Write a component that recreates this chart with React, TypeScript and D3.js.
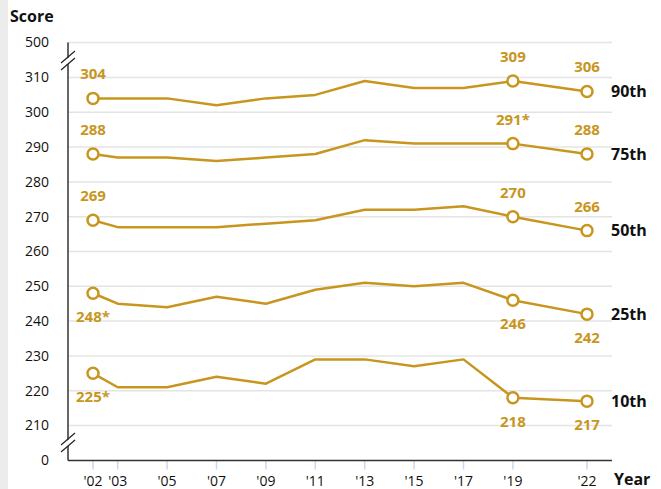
import React from "react";
import * as d3 from "d3";

const years = [2002, 2003, 2005, 2007, 2009, 2011, 2013, 2015, 2017, 2019, 2022];
const yearLabels = ["'02", "'03", "'05", "'07", "'09", "'11", "'13", "'15", "'17", "'19", "'22"];
const percentiles = ["90th", "75th", "50th", "25th", "10th"];

const p90 = [304, 304, 304, 302, 304, 305, 309, 307, 307, 309, 306];
const p75 = [288, 287, 287, 286, 287, 288, 292, 291, 291, 291, 288];
const p50 = [269, 267, 267, 267, 268, 269, 272, 272, 273, 270, 266];
const p25 = [248, 245, 244, 247, 245, 249, 251, 250, 251, 246, 242];
const p10 = [225, 221, 221, 224, 222, 229, 229, 227, 229, 218, 217];

// labels shown on marked points (2002, 2019, 2022)
const markedYears = [2002, 2019, 2022];
const labels90 = ["304", "309", "306"];
const labels75 = ["288", "291*", "288"];
const labels50 = ["269", "270", "266"];
const labels25 = ["248*", "246", "242"];
const labels10 = ["225*", "218", "217"];

const yTicks = [0, 210, 220, 230, 240, 250, 260, 270, 280, 290, 300, 310, 500];

const series = [
  { name: percentiles[0], values: p90, labels: labels90, above: true },
  { name: percentiles[1], values: p75, labels: labels75, above: true },
  { name: percentiles[2], values: p50, labels: labels50, above: true },
  { name: percentiles[3], values: p25, labels: labels25, above: false },
  { name: percentiles[4], values: p10, labels: labels10, above: false },
];

const W = 661;
const H = 489;
const GOLD = "#c8961e";
const FONT = "'Open Sans', 'Noto Sans', sans-serif";

const App: React.FC = () => {
  const x = d3.scaleLinear().domain([2002, 2022]).range([93, 587]);
  // broken axis: 0 and 500 sit one step outside the 210-310 band
  const y = d3.scaleLinear().domain([0, 210, 310, 500]).range([460.5, 425.5, 77.5, 42.5]);
  const left = 68;
  const right = 612;

  const line = d3
    .line<number>()
    .x((_, i) => x(years[i]))
    .y((d) => y(d));

  const breakMark = (cy: number) => (
    <g transform={`translate(${left},${cy})`}>
      <polygon points="-6,3 6,-7 6,-1 -6,9" fill="white" />
      <line x1={-7} y1={3} x2={7} y2={-9} stroke="#222" strokeWidth={1.2} />
      <line x1={-7} y1={10} x2={7} y2={-2} stroke="#222" strokeWidth={1.2} />
    </g>
  );

  return (
    <svg
      width={W}
      height={H}
      style={{ position: "absolute", left: 0, top: 0, background: "white" }}
      fontFamily={FONT}
    >
      <rect x={0} y={0} width={8} height={H} fill="#ececec" />
      <text x={10} y={22} fontSize={16} fontWeight="bold" fill="#111">
        Score
      </text>

      {yTicks.map((t) => (
        <g key={t}>
          {t !== 0 && (
            <line x1={left} x2={right} y1={y(t)} y2={y(t)} stroke="#e4e4e4" strokeWidth={1.5} />
          )}
          <text x={49} y={y(t)} dy="0.35em" textAnchor="end" fontSize={14} fill="#111">
            {t}
          </text>
        </g>
      ))}

      {years.map((yr, i) => (
        <g key={yr}>
          <line x1={x(yr)} x2={x(yr)} y1={y(0)} y2={y(0) + 9} stroke="#cfd8ea" strokeWidth={1.5} />
          <text x={x(yr)} y={486} textAnchor="middle" fontSize={14} fill="#111">
            {yearLabels[i]}
          </text>
        </g>
      ))}
      <text x={614} y={485} fontSize={16} fontWeight="bold" fill="#111">
        Year
      </text>

      <line x1={left} x2={left} y1={y(500)} y2={y(0)} stroke="#333" strokeWidth={1.5} />
      <line x1={left} x2={right} y1={y(0)} y2={y(0)} stroke="#333" strokeWidth={1.5} />
      {breakMark(60)}
      {breakMark(442)}

      {series.map((s) => (
        <g key={s.name}>
          <path d={line(s.values) || ""} fill="none" stroke={GOLD} strokeWidth={2.5} strokeLinejoin="round" />
          {markedYears.map((yr, j) => {
            const v = s.values[years.indexOf(yr)];
            return (
              <g key={yr}>
                <circle cx={x(yr)} cy={y(v)} r={5.5} fill="white" stroke={GOLD} strokeWidth={2.5} />
                <text
                  x={x(yr)}
                  y={s.above ? y(v) - 19 : y(v) + 29}
                  textAnchor="middle"
                  fontSize={15}
                  fontWeight="bold"
                  fill={GOLD}
                >
                  {s.labels[j]}
                </text>
              </g>
            );
          })}
          <text
            x={611}
            y={y(s.values[s.values.length - 1])}
            dy="0.35em"
            fontSize={16}
            fontWeight="bold"
            fill="#111"
          >
            {s.name}
          </text>
        </g>
      ))}
    </svg>
  );
};

export default App;
